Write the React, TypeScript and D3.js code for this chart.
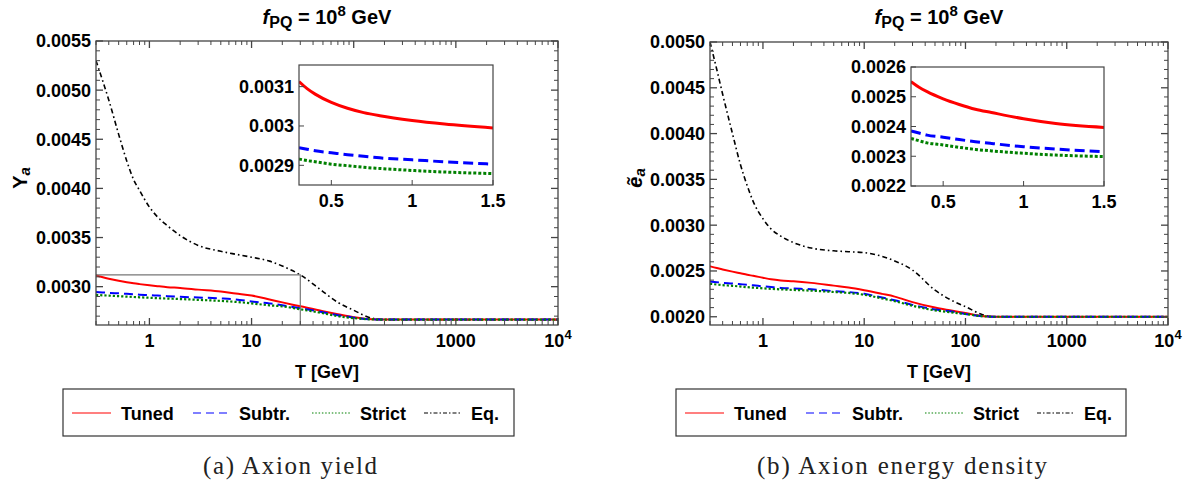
import { useEffect, useRef } from "react";
import * as d3 from "d3";

const temps = [0.3, 0.35, 0.4, 0.5, 0.6, 0.7, 0.8, 1.0, 1.2, 1.5, 2, 3, 5, 7, 10, 15, 20, 30, 50, 70, 100, 150, 200, 1000, 10000];

// (a) axion yield Y_a
const yieldTuned = [0.003113, 0.003095, 0.003081, 0.00306, 0.003045, 0.003034, 0.003026, 0.003014, 0.003005, 0.002995, 0.002987, 0.00297, 0.00295, 0.00293, 0.00291, 0.00287, 0.00284, 0.0028, 0.00275, 0.00272, 0.00269, 0.002668, 0.002665, 0.002665, 0.002665];
const yieldSubtr = [0.002945, 0.002941, 0.002937, 0.002932, 0.002927, 0.002923, 0.002919, 0.002914, 0.002909, 0.002903, 0.002897, 0.00289, 0.00288, 0.00287, 0.00285, 0.00283, 0.00281, 0.00278, 0.00274, 0.00271, 0.002685, 0.002668, 0.002665, 0.002665, 0.002665];
const yieldStrict = [0.002916, 0.002912, 0.002909, 0.002903, 0.002899, 0.002895, 0.002892, 0.002887, 0.002883, 0.002879, 0.002874, 0.002866, 0.002855, 0.002845, 0.00283, 0.00281, 0.0028, 0.00277, 0.00273, 0.0027, 0.00268, 0.002667, 0.002665, 0.002665, 0.002665];
const yieldEq = [0.0053, 0.00509, 0.0049, 0.00455, 0.00428, 0.00409, 0.00398, 0.00381, 0.00371, 0.00362, 0.00352, 0.00342, 0.00336, 0.00333, 0.0033, 0.00326, 0.00321, 0.00312, 0.00295, 0.00284, 0.00276, 0.00268, 0.002665, 0.002665, 0.002665];

// (b) axion energy density e~_a
const energyTuned = [0.002551, 0.002532, 0.002517, 0.002493, 0.002474, 0.002458, 0.002447, 0.002426, 0.00241, 0.002397, 0.002388, 0.00237, 0.00234, 0.00232, 0.00229, 0.00225, 0.00222, 0.00216, 0.0021, 0.00207, 0.00204, 0.002005, 0.002, 0.002, 0.002];
const energySubtr = [0.002385, 0.002378, 0.002371, 0.002364, 0.002356, 0.002349, 0.002343, 0.002332, 0.002324, 0.002315, 0.002308, 0.0023, 0.00228, 0.00227, 0.00225, 0.00221, 0.00218, 0.00213, 0.00208, 0.00206, 0.00203, 0.002005, 0.002, 0.002, 0.002];
const energyStrict = [0.00236, 0.002352, 0.002345, 0.002338, 0.00233, 0.002323, 0.002318, 0.00231, 0.002304, 0.002299, 0.002293, 0.002285, 0.00227, 0.00226, 0.00224, 0.0022, 0.00217, 0.00212, 0.00207, 0.00205, 0.00203, 0.002005, 0.002, 0.002, 0.002];
const energyEq = [0.005, 0.0047, 0.00443, 0.004, 0.00366, 0.00343, 0.00326, 0.00307, 0.00296, 0.00288, 0.00281, 0.00275, 0.00272, 0.00271, 0.0027, 0.00266, 0.00261, 0.00251, 0.00229, 0.00219, 0.00211, 0.00202, 0.002, 0.002, 0.002];

const legendNames = ["Tuned", "Subtr.", "Strict", "Eq."];
const xMajor = [1, 10, 100, 1000, 10000];
const yieldTicks = [0.003, 0.0035, 0.004, 0.0045, 0.005, 0.0055];
const energyTicks = [0.002, 0.0025, 0.003, 0.0035, 0.004, 0.0045, 0.005];
const yieldInsetTicks = [0.0029, 0.003, 0.0031];
const energyInsetTicks = [0.0022, 0.0023, 0.0024, 0.0025, 0.0026];
const insetXTicks = [0.5, 1, 1.5];

const styles = [
  { color: "#ff0000", dash: null, legDash: null },
  { color: "#0000ff", dash: "9,5", legDash: "8,5" },
  { color: "#008000", dash: "2.2,2", legDash: "1.5,1.8" },
  { color: "#000000", dash: "5,3,1.6,3", legDash: "4,2,1.5,2" },
];

const FONT = "'Liberation Sans', Arial, sans-serif";
const FRAME = "#444";

const panels = [
  {
    id: "a",
    series: [yieldTuned, yieldSubtr, yieldStrict, yieldEq],
    x0: 96, x1: 558, y0: 41, y1: 325,
    yDomain: [0.00261, 0.0055], yTicks: yieldTicks,
    inset: { x0: 299, x1: 493, y0: 65, y1: 185, yDomain: [0.00285, 0.003155], yTicks: yieldInsetTicks },
    zoomBox: { t0: 0.3, t1: 30, v: 0.00312 },
    legend: { x: 63, w: 451 },
    caption: "(a) Axion yield", capX: 290, capW: 174,
  },
  {
    id: "b",
    series: [energyTuned, energySubtr, energyStrict, energyEq],
    x0: 710, x1: 1168, y0: 42, y1: 325,
    yDomain: [0.00191, 0.005], yTicks: energyTicks,
    inset: { x0: 911, x1: 1104, y0: 67, y1: 186, yDomain: [0.0022, 0.0026], yTicks: energyInsetTicks },
    zoomBox: null,
    legend: { x: 676, w: 450 },
    caption: "(b) Axion energy density", capX: 902, capW: 290,
  },
];

function drawPanel(svg: any, p: any) {
  const x = d3.scaleLog().domain([0.3, 10000]).range([p.x0, p.x1]);
  const y = d3.scaleLinear().domain(p.yDomain).range([p.y1, p.y0]);
  const g = svg.append("g");

  // title
  const cx = (p.x0 + p.x1) / 2;
  const title = g.append("text").attr("x", cx).attr("y", 24).attr("text-anchor", "middle")
    .style("font-family", FONT).style("font-weight", "bold").style("font-size", "20px");
  title.append("tspan").style("font-style", "italic").text("f");
  title.append("tspan").attr("dy", 4).style("font-size", "16px").text("PQ");
  title.append("tspan").attr("dy", -4).text(" = 10");
  title.append("tspan").attr("dy", -8).style("font-size", "15px").text("8");
  title.append("tspan").attr("dy", 8).text(" GeV");

  // clip
  g.append("clipPath").attr("id", "clip" + p.id).append("rect")
    .attr("x", p.x0).attr("y", p.y0).attr("width", p.x1 - p.x0).attr("height", p.y1 - p.y0);

  const widths = [2, 2, 2.2, 1.6];
  const plot = g.append("g").attr("clip-path", `url(#clip${p.id})`);
  // Eq first so the others sit on top
  [3, 0, 1, 2].forEach((k) => {
    const line = d3.line<number>().x((_, i) => x(temps[i])).y((v) => y(v)).curve(d3.curveMonotoneX);
    plot.append("path").attr("d", line(p.series[k]))
      .attr("fill", "none").attr("stroke", styles[k].color).attr("stroke-width", widths[k])
      .attr("stroke-dasharray", styles[k].dash);
  });

  // zoom box
  if (p.zoomBox) {
    const b = p.zoomBox;
    g.append("path")
      .attr("d", `M${x(b.t0)},${y(b.v)}H${x(b.t1)}V${p.y1}`)
      .attr("fill", "none").attr("stroke", "#777").attr("stroke-width", 1.2);
  }

  // frame
  g.append("rect").attr("x", p.x0).attr("y", p.y0).attr("width", p.x1 - p.x0).attr("height", p.y1 - p.y0)
    .attr("fill", "none").attr("stroke", FRAME).attr("stroke-width", 1.3);

  // x ticks (bottom & top, inward)
  const minor: number[] = [];
  for (let e = -1; e < 4; e++) for (let m = 2; m <= 9; m++) {
    const v = m * Math.pow(10, e);
    if (v >= 0.3 && v <= 10000) minor.push(v);
  }
  const tk = g.append("g").attr("stroke", FRAME).attr("stroke-width", 1);
  minor.forEach((v) => {
    tk.append("line").attr("x1", x(v)).attr("x2", x(v)).attr("y1", p.y1).attr("y2", p.y1 - 4);
    tk.append("line").attr("x1", x(v)).attr("x2", x(v)).attr("y1", p.y0).attr("y2", p.y0 + 4);
  });
  xMajor.forEach((v) => {
    tk.append("line").attr("x1", x(v)).attr("x2", x(v)).attr("y1", p.y1).attr("y2", p.y1 - 7).attr("stroke-width", 1.3);
    tk.append("line").attr("x1", x(v)).attr("x2", x(v)).attr("y1", p.y0).attr("y2", p.y0 + 7).attr("stroke-width", 1.3);
  });
  xMajor.forEach((v) => {
    const t = g.append("text").attr("x", x(v)).attr("y", p.y1 + 22).attr("text-anchor", "middle")
      .style("font-family", FONT).style("font-weight", "bold").style("font-size", "18px");
    if (v === 10000) {
      t.append("tspan").text("10");
      t.append("tspan").attr("dy", -8).style("font-size", "13px").text("4");
    } else t.text(String(v));
  });

  // y ticks
  const step = 0.0001;
  const n0 = Math.ceil(p.yDomain[0] / step - 1e-6);
  const n1 = Math.floor(p.yDomain[1] / step + 1e-6);
  for (let n = n0; n <= n1; n++) {
    const v = n * step;
    const major = n % 5 === 0;
    const len = major ? 7 : 4;
    tk.append("line").attr("x1", p.x0).attr("x2", p.x0 + len).attr("y1", y(v)).attr("y2", y(v)).attr("stroke-width", major ? 1.3 : 1);
    tk.append("line").attr("x1", p.x1).attr("x2", p.x1 - len).attr("y1", y(v)).attr("y2", y(v)).attr("stroke-width", major ? 1.3 : 1);
  }
  p.yTicks.forEach((v: number) => {
    g.append("text").attr("x", p.x0 - 5).attr("y", y(v)).attr("dy", "0.36em").attr("text-anchor", "end")
      .style("font-family", FONT).style("font-weight", "bold").style("font-size", "18px")
      .text(d3.format(".4f")(v));
  });

  // axis labels
  g.append("text").attr("x", cx).attr("y", 378).attr("text-anchor", "middle")
    .style("font-family", FONT).style("font-weight", "bold").style("font-size", "18px").text("T [GeV]");
  const yl = g.append("text").attr("transform", `translate(${p.id === "a" ? 27 : 642},178) rotate(-90)`)
    .attr("text-anchor", "middle").style("font-family", FONT).style("font-weight", "bold").style("font-size", "20px");
  if (p.id === "a") {
    yl.append("tspan").text("Y");
    yl.append("tspan").attr("dy", 3).style("font-style", "italic").style("font-size", "15px").text("a");
  } else {
    yl.append("tspan").style("font-style", "italic").text("ẽ");
    yl.append("tspan").attr("dy", 3).style("font-style", "italic").style("font-size", "15px").text("a");
  }

  drawInset(g, p);
  drawLegend(g, p);

  // caption
  g.append("text").attr("x", p.capX).attr("y", 474).attr("text-anchor", "middle")
    .attr("textLength", p.capW).attr("lengthAdjust", "spacing")
    .style("font-family", "'Liberation Serif', 'Times New Roman', serif").style("font-size", "25px")
    .attr("fill", "#222").text(p.caption);
}

function drawInset(g: any, p: any) {
  const q = p.inset;
  const x = d3.scaleLinear().domain([0.3, 1.5]).range([q.x0, q.x1]);
  const y = d3.scaleLinear().domain(q.yDomain).range([q.y1, q.y0]);
  const ig = g.append("g");
  ig.append("rect").attr("x", q.x0).attr("y", q.y0).attr("width", q.x1 - q.x0).attr("height", q.y1 - q.y0).attr("fill", "#fff");
  ig.append("clipPath").attr("id", "iclip" + p.id).append("rect")
    .attr("x", q.x0).attr("y", q.y0).attr("width", q.x1 - q.x0).attr("height", q.y1 - q.y0);
  const n = temps.filter((t) => t <= 1.5).length;
  const lines = ig.append("g").attr("clip-path", `url(#iclip${p.id})`);
  const dashes = [null, "10,5", "3,2", null];
  [0, 1, 2].forEach((k) => {
    const line = d3.line<number>().x((_, i) => x(temps[i])).y((v) => y(v)).curve(d3.curveMonotoneX);
    lines.append("path").attr("d", line(p.series[k].slice(0, n)))
      .attr("fill", "none").attr("stroke", styles[k].color).attr("stroke-width", 3)
      .attr("stroke-dasharray", dashes[k]);
  });
  ig.append("rect").attr("x", q.x0).attr("y", q.y0).attr("width", q.x1 - q.x0).attr("height", q.y1 - q.y0)
    .attr("fill", "none").attr("stroke", FRAME).attr("stroke-width", 1.2);
  const fmt = (v: number) => String(+v.toFixed(4));
  q.yTicks.forEach((v: number) => {
    ig.append("line").attr("x1", q.x0).attr("x2", q.x0 + 5).attr("y1", y(v)).attr("y2", y(v)).attr("stroke", FRAME);
    ig.append("text").attr("x", q.x0 - 5).attr("y", y(v)).attr("dy", "0.36em").attr("text-anchor", "end")
      .style("font-family", FONT).style("font-weight", "bold").style("font-size", "18px").text(fmt(v));
  });
  insetXTicks.forEach((v) => {
    ig.append("line").attr("x1", x(v)).attr("x2", x(v)).attr("y1", q.y1).attr("y2", q.y1 - 5).attr("stroke", FRAME);
    ig.append("text").attr("x", x(v)).attr("y", q.y1 + 22).attr("text-anchor", "middle")
      .style("font-family", FONT).style("font-weight", "bold").style("font-size", "18px").text(String(v));
  });
}

function drawLegend(g: any, p: any) {
  const L = p.legend;
  const lg = g.append("g");
  lg.append("rect").attr("x", L.x).attr("y", 389).attr("width", L.w).attr("height", 47)
    .attr("fill", "#fff").attr("stroke", "#333").attr("stroke-width", 1.2);
  // line start offsets inside the legend box
  const offs = [9, 130, 249, 361];
  const lens = [39, 36, 38, 37];
  legendNames.forEach((name, k) => {
    const lx = L.x + offs[k];
    lg.append("line").attr("x1", lx).attr("x2", lx + lens[k]).attr("y1", 413).attr("y2", 413)
      .attr("stroke", styles[k].color).attr("stroke-width", 1.2).attr("stroke-dasharray", styles[k].legDash);
    lg.append("text").attr("x", lx + lens[k] + 10).attr("y", 420)
      .style("font-family", FONT).style("font-weight", "bold").style("font-size", "18px").text(name);
  });
}

export default function App() {
  const ref = useRef<SVGSVGElement>(null);
  useEffect(() => {
    const svg = d3.select(ref.current);
    svg.selectAll("*").remove();
    panels.forEach((p) => drawPanel(svg, p));
  }, []);
  return (
    <svg ref={ref} width={1191} height={486}
      style={{ position: "absolute", left: 0, top: 0, background: "#fff" }} />
  );
}
